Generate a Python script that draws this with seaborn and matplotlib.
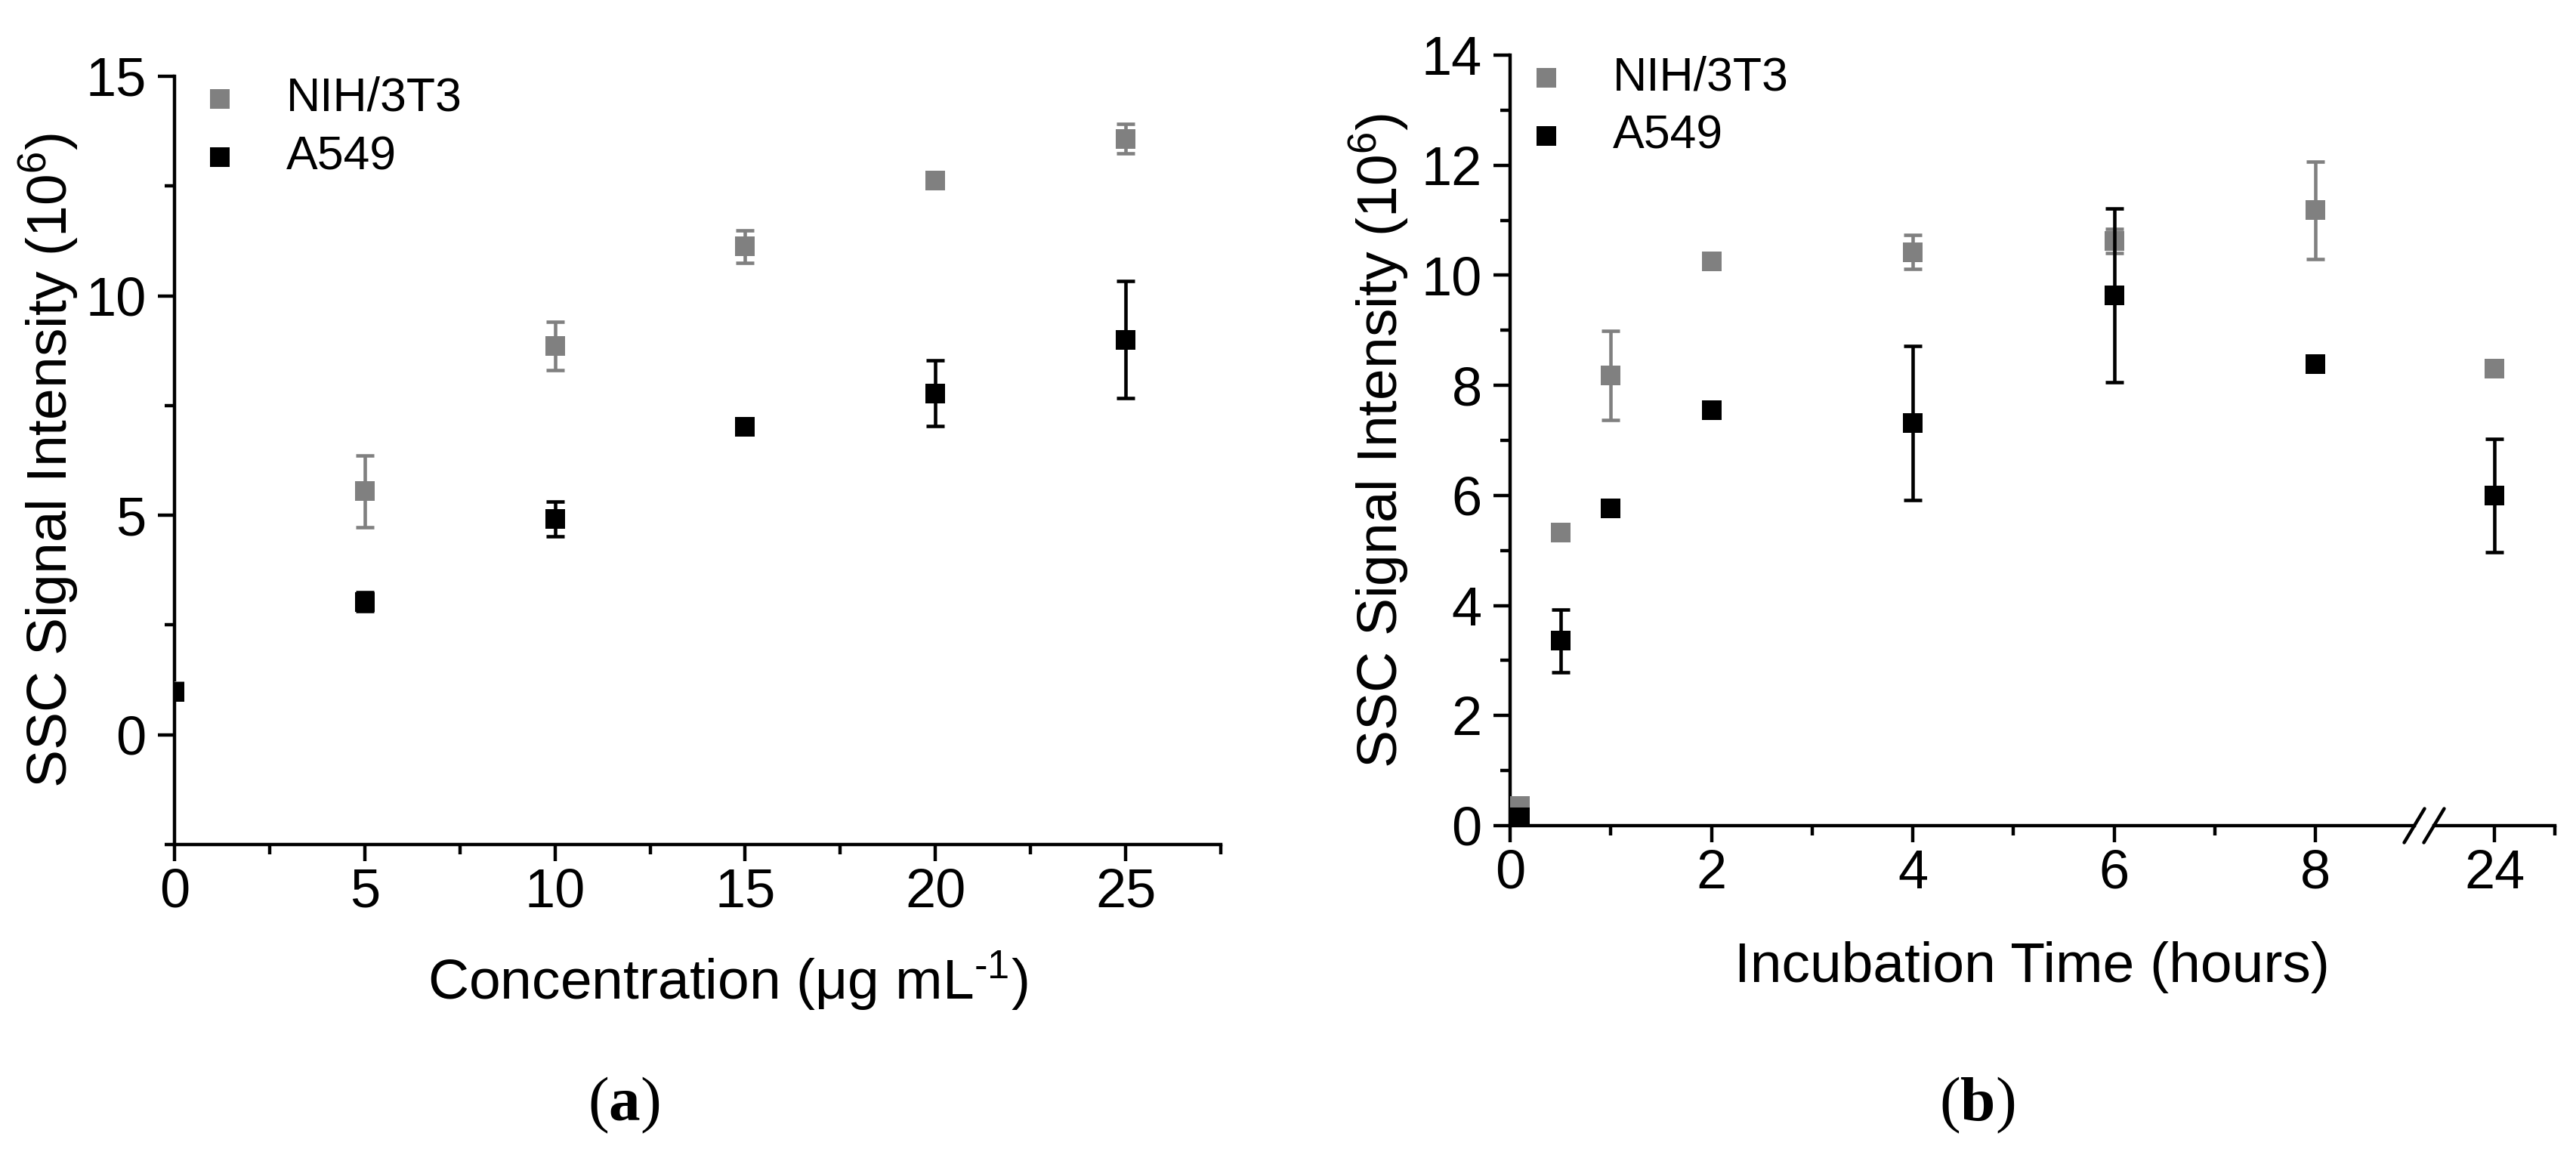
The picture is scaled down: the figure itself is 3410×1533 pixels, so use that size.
import matplotlib
matplotlib.use("Agg")
import matplotlib.pyplot as plt
from matplotlib.ticker import FixedLocator
import pandas as pd
import seaborn as sns

# ---- panel (a) : SSC vs concentration
conc = [0, 5, 10, 15, 20, 25]
nih_conc = [1.0, 5.55, 8.85, 11.12, 12.62, 13.58]
nih_conc_err = [0.1, 0.82, 0.55, 0.37, 0.1, 0.33]
a549_conc = [0.98, 3.03, 4.92, 7.02, 7.78, 9.0]
a549_conc_err = [0.1, 0.22, 0.4, 0.15, 0.75, 1.33]

# ---- panel (b) : SSC vs incubation time
hours = [0.1, 0.5, 1, 2, 4, 6, 8, 24]
nih_time = [0.35, 5.32, 8.18, 10.25, 10.42, 10.62, 11.18, 8.3]
nih_time_err = [0.1, 0.1, 0.81, 0.1, 0.31, 0.22, 0.88, 0.1]
a549_time = [0.15, 3.36, 5.76, 7.55, 7.32, 9.64, 8.38, 6.0]
a549_time_err = [0.1, 0.57, 0.1, 0.1, 1.4, 1.58, 0.1, 1.03]

series_names = ["NIH/3T3", "A549"]
colors = {"NIH/3T3": "#808080", "A549": "#000000"}

ylab = r"SSC Signal Intensity (10$\mathregular{^6}$)"
xlab_a = r"Concentration (μg mL$\mathregular{^{\text{-}1}}$)"
xlab_b = "Incubation Time (hours)"

TICK_FS = 52
LABEL_FS = 54
LEG_FS = 45
LW = 3.2

sns.set_style("ticks", {"axes.edgecolor": "black", "xtick.color": "black",
                        "ytick.color": "black", "text.color": "black",
                        "axes.labelcolor": "black"})
plt.rcParams["font.family"] = ["Liberation Sans", "DejaVu Sans"]
plt.rcParams["mathtext.fontset"] = "custom"
plt.rcParams["mathtext.rm"] = "Liberation Sans"
plt.rcParams["mathtext.bf"] = "Liberation Serif:bold"
plt.rcParams["axes.linewidth"] = LW


def draw_series(ax, x, ys, errs):
    # grey first, black on top
    z = 2
    for name, y, e in zip(series_names, ys, errs):
        ax.errorbar(x, y, yerr=e, fmt="none", ecolor=colors[name],
                    elinewidth=3.3, capsize=8.5, capthick=3.3, zorder=z)
        df = pd.DataFrame({"x": x, "y": y})
        sns.scatterplot(data=df, x="x", y="y", color=colors[name], marker="s",
                        s=350, linewidth=0, label=name, ax=ax, zorder=z + 1)
        z += 2
    ax.set_xlabel("")
    ax.set_ylabel("")


def style_ticks(ax):
    ax.tick_params(which="major", direction="out", length=16, width=LW,
                   labelsize=TICK_FS)
    ax.tick_params(axis="x", which="major", pad=6)
    ax.tick_params(axis="y", which="major", pad=11)
    ax.tick_params(which="minor", direction="out", length=9.4, width=LW)


fig = plt.figure(figsize=(34.1, 15.33), dpi=100)
ax_a = fig.add_axes([0.06774, 0.27071, 0.40616, 0.66341])
ax_b = fig.add_axes([0.58622, 0.28702, 0.35103, 0.66536])
ax_c = fig.add_axes([0.94487, 0.28702, 0.04692, 0.66536], sharey=ax_b)

# ---- (a)
draw_series(ax_a, conc, [nih_conc, a549_conc], [nih_conc_err, a549_conc_err])
ax_a.set_xlim(0, 27.5)
ax_a.set_ylim(-2.5, 15)
ax_a.set_xticks([0, 5, 10, 15, 20, 25])
ax_a.xaxis.set_minor_locator(FixedLocator([2.5, 7.5, 12.5, 17.5, 22.5, 27.5]))
ax_a.set_yticks([0, 5, 10, 15])
ax_a.yaxis.set_minor_locator(FixedLocator([-2.5, 2.5, 7.5, 12.5]))
style_ticks(ax_a)
sns.despine(ax=ax_a)
ax_a.set_xlabel(xlab_a, fontsize=LABEL_FS)
ax_a.set_ylabel(ylab, fontsize=LABEL_FS)
ax_a.xaxis.set_label_coords(0.529, -0.136)
ax_a.yaxis.set_label_coords(-0.0895, 0.5)
ax_a.legend(loc="upper left", bbox_to_anchor=(0.0072, 1.0), frameon=False,
            fontsize=LEG_FS, handlelength=1.6, handletextpad=0.6,
            labelspacing=0.3, borderpad=0, borderaxespad=0)

# ---- (b) with broken x axis
for ax in (ax_b, ax_c):
    draw_series(ax, hours, [nih_time, a549_time], [nih_time_err, a549_time_err])
    style_ticks(ax)
    sns.despine(ax=ax)
if ax_c.get_legend():
    ax_c.get_legend().remove()

ax_b.set_xlim(0, 8.98)
ax_b.set_ylim(0, 14)
ax_b.set_xticks([0, 2, 4, 6, 8])
ax_b.xaxis.set_minor_locator(FixedLocator([1, 3, 5, 7]))
ax_b.set_yticks(range(0, 15, 2))
ax_b.yaxis.set_minor_locator(FixedLocator([1, 3, 5, 7, 9, 11, 13]))
ax_b.set_xlabel(xlab_b, fontsize=LABEL_FS)
ax_b.set_ylabel(ylab, fontsize=LABEL_FS)
ax_b.xaxis.set_label_coords(0.577, -0.150)
ax_b.yaxis.set_label_coords(-0.1094, 0.5)
ax_b.legend(loc="upper left", bbox_to_anchor=(-0.0017, 1.0), frameon=False,
            fontsize=LEG_FS, handlelength=1.6, handletextpad=0.6,
            labelspacing=0.3, borderpad=0, borderaxespad=0)

ax_c.set_xlim(23.4, 24.6)
ax_c.set_xticks([24])
ax_c.xaxis.set_minor_locator(FixedLocator([24.6]))
ax_c.spines["left"].set_visible(False)
ax_c.tick_params(axis="y", which="both", left=False, labelleft=False)
ax_c.set_xlabel("")
ax_c.set_ylabel("")

# break marks on the x axis
dy = 22.5 / 1020
for ax, xa, dx in ((ax_b, 1.0, 13.5 / 1197), (ax_c, 0.0, 13.5 / 160)):
    ax.plot([xa - dx, xa + dx], [-dy, dy], transform=ax.transAxes,
            color="black", lw=LW, clip_on=False)

# panel captions
fig.text(0.2422, 0.0457, r"($\mathbf{a}$)", fontsize=60,
         family="Liberation Serif", ha="center", va="center")
fig.text(0.7674, 0.0457, r"($\mathbf{b}$)", fontsize=60,
         family="Liberation Serif", ha="center", va="center")

fig.savefig("out.png", dpi=100, facecolor="white")
